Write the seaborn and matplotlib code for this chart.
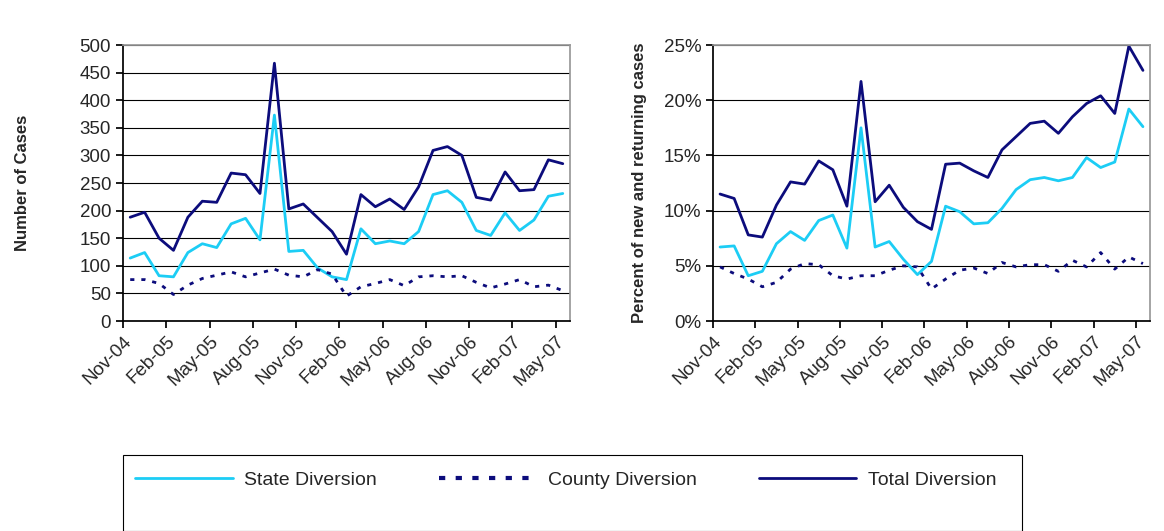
import numpy as np
import pandas as pd
import matplotlib
matplotlib.use("Agg")
import matplotlib.pyplot as plt
from matplotlib.patches import Rectangle
import seaborn as sns

months = ["Nov-04", "Dec-04", "Jan-05", "Feb-05", "Mar-05", "Apr-05", "May-05", "Jun-05",
          "Jul-05", "Aug-05", "Sep-05", "Oct-05", "Nov-05", "Dec-05", "Jan-06", "Feb-06",
          "Mar-06", "Apr-06", "May-06", "Jun-06", "Jul-06", "Aug-06", "Sep-06", "Oct-06",
          "Nov-06", "Dec-06", "Jan-07", "Feb-07", "Mar-07", "Apr-07", "May-07"]

# counts
state_cases = [114, 124, 82, 80, 124, 140, 133, 176, 186, 147, 373, 126, 128, 96, 80, 75,
               167, 140, 145, 140, 162, 229, 236, 215, 164, 155, 196, 164, 183, 226, 231]
county_cases = [75, 75, 68, 48, 65, 77, 83, 89, 80, 87, 94, 83, 80, 93, 85, 45,
                62, 68, 75, 64, 80, 82, 80, 82, 70, 60, 67, 75, 62, 65, 55]
total_cases = [188, 197, 150, 128, 188, 217, 215, 268, 265, 231, 467, 203, 212, 187, 162, 121,
               229, 207, 221, 202, 243, 309, 316, 300, 224, 219, 270, 236, 238, 292, 285]

# percent of new and returning cases
state_pct = [6.7, 6.8, 4.1, 4.5, 7.0, 8.1, 7.3, 9.1, 9.6, 6.6, 17.5, 6.7, 7.2, 5.6, 4.2, 5.4,
             10.4, 9.9, 8.8, 8.9, 10.2, 11.9, 12.8, 13.0, 12.7, 13.0, 14.8, 13.9, 14.4, 19.2, 17.6]
county_pct = [4.9, 4.3, 3.8, 3.1, 3.5, 4.7, 5.2, 5.1, 4.1, 3.8, 4.1, 4.1, 4.6, 5.0, 4.9, 2.9,
              3.8, 4.6, 4.8, 4.3, 5.3, 4.9, 5.1, 5.1, 4.5, 5.5, 4.9, 6.2, 4.7, 5.8, 5.2]
total_pct = [11.5, 11.1, 7.8, 7.6, 10.5, 12.6, 12.4, 14.5, 13.7, 10.4, 21.7, 10.8, 12.3, 10.3,
             9.0, 8.3, 14.2, 14.3, 13.6, 13.0, 15.5, 16.7, 17.9, 18.1, 17.0, 18.5, 19.7, 20.4,
             18.8, 24.9, 22.7]

series = ["State Diversion", "County Diversion", "Total Diversion"]
colors = {"State Diversion": "#1ccdf5", "County Diversion": "#0c0c7c", "Total Diversion": "#0c0c7c"}

sns.set_theme(style="white")
plt.rcParams['font.family'] = ['Liberation Sans', 'DejaVu Sans']

x = np.arange(len(months))
df_cases = pd.DataFrame({"x": np.tile(x, 3),
                         "value": state_cases + county_cases + total_cases,
                         "series": np.repeat(series, len(x))})
df_pct = pd.DataFrame({"x": np.tile(x, 3),
                       "value": state_pct + county_pct + total_pct,
                       "series": np.repeat(series, len(x))})

fig = plt.figure(figsize=(11.64, 5.31), dpi=100)
W, H = 1164, 531
ax1 = fig.add_axes([123 / W, 1 - 321 / H, 447 / W, 276 / H])
ax2 = fig.add_axes([713 / W, 1 - 321 / H, 437 / W, 276 / H])

for ax, df, ylim, yticks, ylab, pad in [
        (ax1, df_cases, 500, np.arange(0, 501, 50), "Number of Cases", 36),
        (ax2, df_pct, 25, np.arange(0, 26, 5), "Percent of new and returning cases", 12)]:
    sns.lineplot(data=df, x="x", y="value", hue="series", style="series",
                 palette=colors, dashes={"State Diversion": "", "County Diversion": (1.5, 2.5),
                                         "Total Diversion": ""},
                 linewidth=2, legend=False, ax=ax)
    ax.set_xlim(-0.5, len(x) - 0.5)
    ax.set_ylim(0, ylim)
    ax.set_yticks(yticks)
    if ax is ax2:
        ax.set_yticklabels([f"{v}%" for v in yticks])
    ax.yaxis.grid(True, color="#000000", linewidth=0.8)
    ax.set_axisbelow(True)
    ax.set_xticks(np.arange(-0.5, len(x), 3))
    ax.set_xticklabels([months[i] for i in range(0, len(x), 3)], rotation=45,
                       ha="right", rotation_mode="anchor")
    ax.tick_params(axis="both", labelsize=13.5, length=5, direction="out", color="#000000",
                   bottom=True, left=True)
    ax.set_xlabel("")
    ax.set_ylabel(ylab, fontsize=12, fontweight="bold", labelpad=pad)
    for s in ["left", "bottom"]:
        ax.spines[s].set_color("#000000")
    for s in ["top", "right"]:
        ax.spines[s].set_color("#999999")

# legend box
fig.patches.append(Rectangle((123 / W, 0), (1022 - 123) / W, (531 - 455) / H,
                             transform=fig.transFigure, fill=False, edgecolor="#000000",
                             linewidth=0.8))
handles = [plt.Line2D([], [], color=colors["State Diversion"], lw=2),
           plt.Line2D([], [], color=colors["County Diversion"], lw=3, linestyle=(0, (1.5, 2.5))),
           plt.Line2D([], [], color=colors["Total Diversion"], lw=2)]
fig.legend(handles, series, loc="center", bbox_to_anchor=(566 / W, 1 - 480 / H),
           ncol=3, frameon=False, fontsize=14, handlelength=5, handletextpad=0.6,
           columnspacing=3.2)

fig.savefig("out.png", dpi=100)
